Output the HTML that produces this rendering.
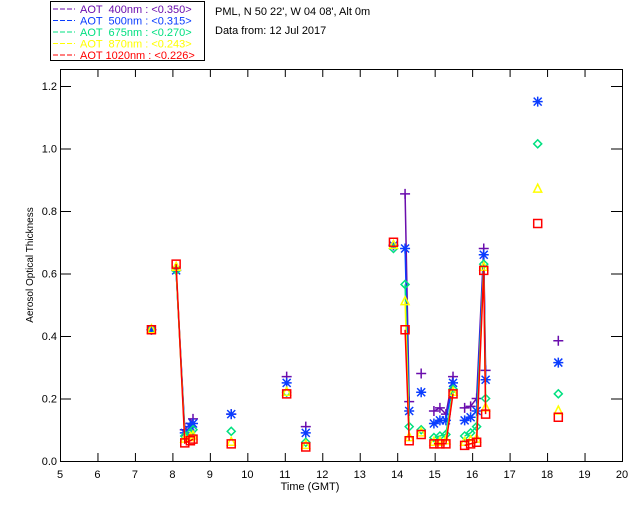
<!DOCTYPE html>
<html><head><meta charset="utf-8"><style>
body{margin:0;background:#fff;}
svg{display:block;font-family:"Liberation Sans",sans-serif;}
</style></head><body>
<svg id="chart" width="640" height="512">
  <g>
    <rect x="50.5" y="1.5" width="154" height="59" fill="none" stroke="#000"/>
  </g>
  <text x="215" y="15" font-size="11">PML, N 50 22', W 04 08', Alt 0m</text>
  <text x="215" y="34" font-size="11">Data from: 12 Jul 2017</text>
  <rect x="60.5" y="69.5" width="562" height="392" fill="none" stroke="#000"/>
  <g id="axes"></g>
  <g id="marks"></g>
  <text x="310" y="490" font-size="11" text-anchor="middle">Time (GMT)</text>
  <text transform="translate(33,265) rotate(-90)" font-size="10" text-anchor="middle">Aerosol Optical Thickness</text>
</svg>
<script>
const times=[7.44,8.1,8.33,8.48,8.55,9.57,11.05,11.56,13.9,14.21,14.32,14.64,14.98,15.14,15.3,15.49,15.8,15.96,16.12,16.31,16.36,17.75,18.3];
const aot400=[0.42,0.61,0.10,0.12,0.135,0.15,0.27,0.11,0.69,0.855,0.19,0.28,0.16,0.17,0.15,0.27,0.17,0.175,0.20,0.68,0.29,null,0.385];
const aot500=[0.42,0.61,0.09,0.11,0.12,0.15,0.25,0.09,0.69,0.68,0.16,0.22,0.12,0.13,0.13,0.25,0.13,0.14,0.16,0.66,0.26,1.15,0.315];
const aot675=[0.42,0.61,0.08,0.09,0.10,0.095,0.22,0.06,0.68,0.565,0.11,0.10,0.075,0.08,0.085,0.23,0.08,0.09,0.11,0.63,0.20,1.015,0.215];
const aot870=[0.42,0.62,0.07,0.075,0.08,0.06,0.22,0.05,0.69,0.51,0.075,0.09,0.06,0.06,0.065,0.22,0.06,0.065,0.07,0.62,0.17,0.87,0.16];
const aot1020=[0.42,0.63,0.058,0.065,0.07,0.055,0.215,0.045,0.70,0.42,0.065,0.085,0.055,0.055,0.055,0.215,0.05,0.055,0.06,0.61,0.15,0.76,0.14];
const xTicks=[5,6,7,8,9,10,11,12,13,14,15,16,17,18,19,20];
const yTicks=[0,0.2,0.4,0.6,0.8,1.0,1.2];
const legendLabels=["AOT  400nm : <0.350>","AOT  500nm : <0.315>","AOT  675nm : <0.270>","AOT  870nm : <0.243>","AOT 1020nm : <0.226>"];

const NS="http://www.w3.org/2000/svg";
const X=h=>60+(h-5)*(562/15);
const Y=v=>461-v*312.5;
function mk(tag,attrs,parent){const e=document.createElementNS(NS,tag);for(const k in attrs)e.setAttribute(k,attrs[k]);parent.appendChild(e);return e;}
const axes=document.getElementById('axes'),marks=document.getElementById('marks'),svg=document.getElementById('chart');
xTicks.forEach(t=>{const x=X(t)+0.5;
  if(t>5&&t<20){const l=mk('path',{d:`M${x} 461V453M${x} 69V77`,stroke:'#000'},axes);
  
  }
  const tx=mk('text',{x:X(t),y:478,'font-size':11,'text-anchor':'middle'},axes);tx.textContent=t;
  
  });
yTicks.forEach(t=>{const y=Y(t)+0.5;
  const l=mk('path',{d:`M60 ${y}H71M622 ${y}H611`,stroke:'#000'},axes);
  
  
  const tx=mk('text',{x:57,y:Y(t)+4,'font-size':11,'text-anchor':'end'},axes);tx.textContent=t.toFixed(1);
  
  });
const series=[[aot400,'#6a0dad','plus'],[aot500,'#0a3cff','star'],[aot675,'#00e080','diamond'],[aot870,'#ffff00','tri'],[aot1020,'#ff0000','square']];
const names=['aot-400','aot-500','aot-675','aot-870','aot-1020'];
series.forEach((s,si)=>{const [vals,col,m]=s;
  const g=mk('g',{},marks);
  
  
  let d='';
  for(let i=0;i<times.length;i++){if(vals[i]==null)continue;
    const prev=i>0&&vals[i-1]!=null&&times[i]-times[i-1]<0.26;
    d+=(prev?'L':'M')+X(times[i]).toFixed(1)+' '+Y(vals[i]).toFixed(1);}
  const ln=mk('path',{d:d,stroke:col,fill:'none','stroke-width':1.5},g);
  
  
  for(let i=0;i<times.length;i++){if(vals[i]==null||Y(vals[i])<69)continue;
    const x=X(times[i]),y=Y(vals[i]);let p;
    if(m==='plus')p=`M${x-5} ${y}H${x+5}M${x} ${y-5}V${y+5}`;
    else if(m==='star')p=`M${x-5} ${y}H${x+5}M${x} ${y-5}V${y+5}M${x-4} ${y-4}L${x+4} ${y+4}M${x-4} ${y+4}L${x+4} ${y-4}`;
    else if(m==='diamond')p=`M${x} ${y-4}L${x+4} ${y}L${x} ${y+4}L${x-4} ${y}Z`;
    else if(m==='tri')p=`M${x} ${y-5}L${x+4} ${y+3}L${x-4} ${y+3}Z`;
    else p=`M${x-4} ${y-4}H${x+4}V${y+4}H${x-4}Z`;
    const mm=mk('path',{d:p,stroke:col,fill:'none','stroke-width':1.5},g);
    
    }
  const ly=13+si*11.5;
  const ll=mk('path',{d:`M53 ${ly-4}H75`,stroke:col,'stroke-dasharray':'5 2'},svg);
  
  
  const lt=mk('text',{x:80,y:ly,'font-size':11,fill:col},svg);
  lt.style.whiteSpace='pre';lt.textContent=legendLabels[si];
  
  
});
</script>
</body></html>
